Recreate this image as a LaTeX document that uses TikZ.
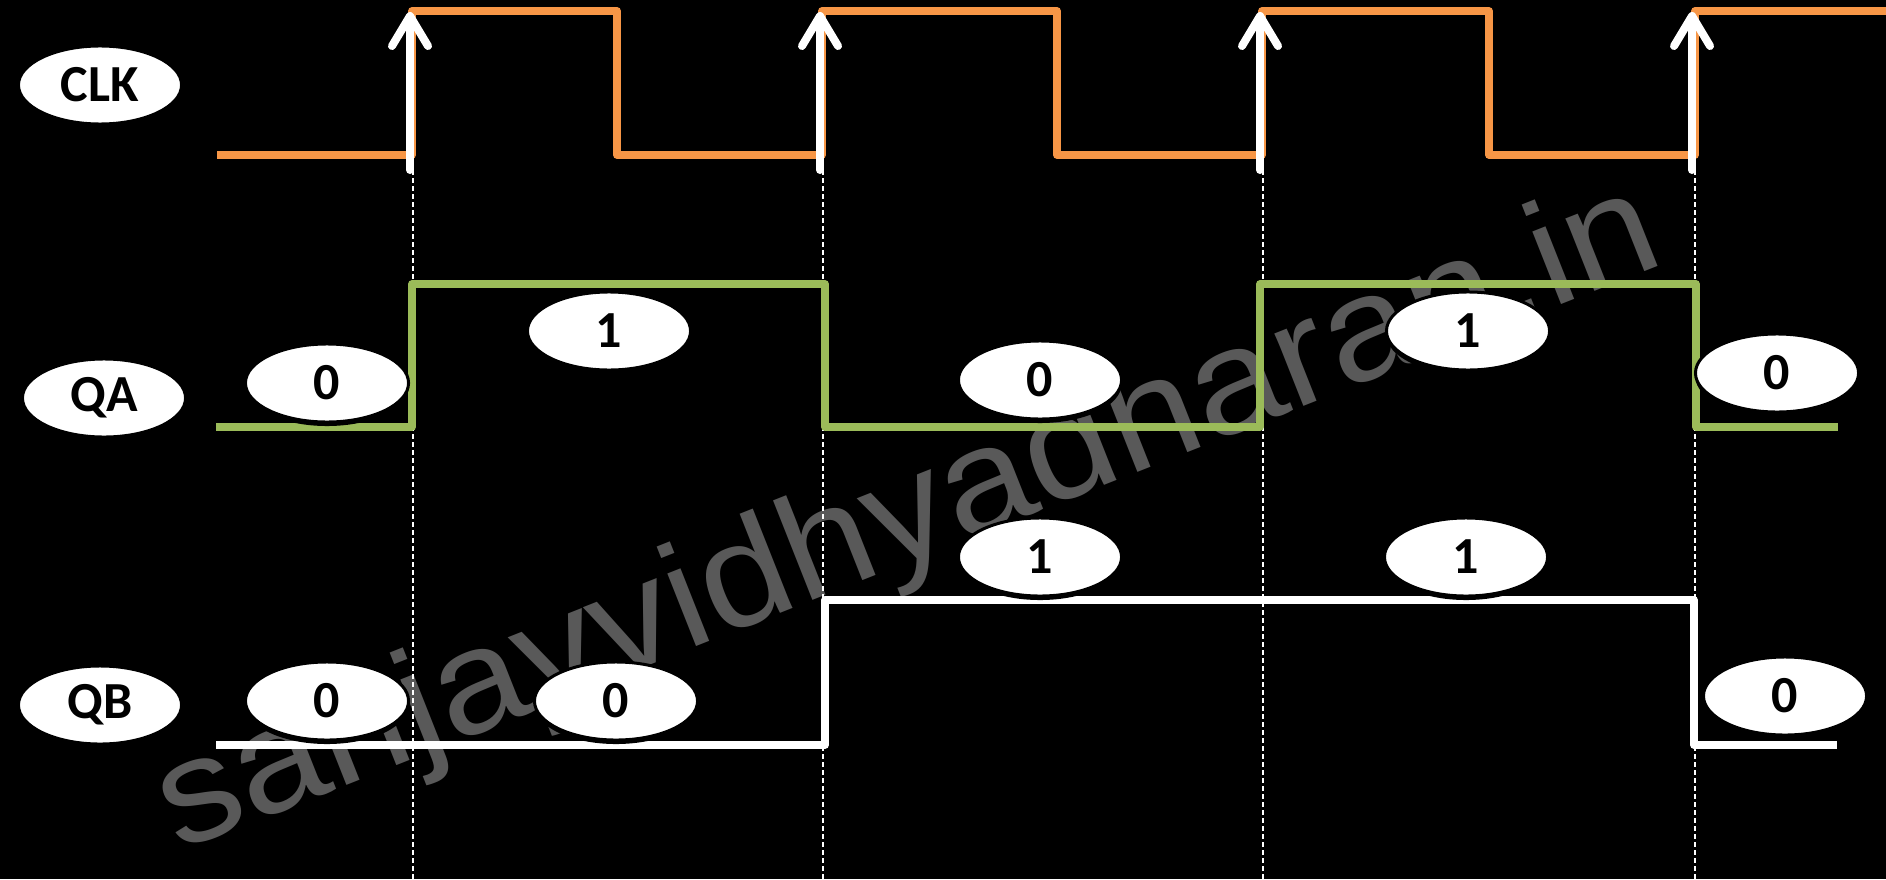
\documentclass[tikz,border=0pt]{standalone}
\usepackage{fontspec}
\setmainfont{Carlito}
\newfontfamily\markfont{Liberation Sans}
\usepackage{tikz}
\usetikzlibrary{shapes.geometric, shadows, arrows.meta}
\definecolor{clkorange}{HTML}{F79646}
\definecolor{qagreen}{HTML}{9BBB59}
\definecolor{markgray}{HTML}{595959}

\begin{document}
\begin{tikzpicture}[x=0.01cm, y=-0.01cm,
	tag/.style={ellipse, fill=white, draw=black, line width=0.03cm, minimum width=1.63cm, minimum height=0.78cm, inner sep=0pt,
		font=\fontsize{14.8}{16}\selectfont\bfseries, text=black,
		drop shadow={shadow xshift=0cm, shadow yshift=-0.04cm, fill=black, opacity=1}},
	wave/.style={line width=0.075cm, line join=round},
	guide/.style={white, line width=0.02cm, dash pattern=on 0.05cm off 0.03cm},
	trig/.style={white, line width=0.08cm, line cap=round, -{Straight Barb[length=0.3cm, width=0.36cm, round]}}]
		\fill[black] (0,0) rectangle (1886,879);
		\useasboundingbox (0,0) rectangle (1886,879);
		
		\node[markgray, font=\markfont\fontsize{42}{42}\selectfont, anchor=base west, rotate=21.6, xscale=1.09, inner sep=0pt] (mark) at (178,852) {sanjayvidhyadharan.in};
		
		% rising clock edges
		\foreach \n/\x in {1/412, 2/822, 3/1262, 4/1694} {
			\coordinate (t\n) at (\x-2,12);
			\coordinate (m\n) at (\x-2,170);
			\coordinate (g\n) at (\x+1,170);
			\coordinate (b\n) at (\x+1,879);
		}
		\foreach \n in {1,...,4}
			\draw[guide] (g\n) -- (b\n);
		
		\draw[wave, clkorange] (217,155) -- (412,155) -- (412,11) -- (617,11) -- (617,155) -- (822,155) -- (822,11) -- (1057,11) -- (1057,155)
			-- (1262,155) -- (1262,11) -- (1489,11) -- (1489,155) -- (1695,155) -- (1695,11) -- (1886,11);
		\draw[wave, qagreen] (216,427) -- (412,427) -- (412,284) -- (825,284) -- (825,427) -- (1260,427) -- (1260,284) -- (1696,284) -- (1696,427) -- (1838,427);
		\draw[wave, white] (216,745) -- (825,745) -- (825,600) -- (1694,600) -- (1694,745) -- (1837,745);
		
		\foreach \n in {1,...,4}
			\draw[trig] (m\n) -- (t\n);
		
		\node[tag] (clk) at (100,85) {CLK};
		\node[tag] (qa) at (104,398) {QA};
		\node[tag] (qb) at (100,705) {QB};
		
		\node[tag] (a0) at (327,383) {0};
		\node[tag] (a1) at (609,331) {1};
		\node[tag] (a2) at (1040,380) {0};
		\node[tag] (a3) at (1468,331) {1};
		\node[tag] (a4) at (1777,373) {0};
		
		\node[tag] (b0) at (327,701) {0};
		\node[tag] (b1) at (616,701) {0};
		\node[tag] (b2) at (1040,557) {1};
		\node[tag] (b3) at (1466,557) {1};
		\node[tag] (b4) at (1785,696) {0};
		
	\end{tikzpicture}
\end{document}
